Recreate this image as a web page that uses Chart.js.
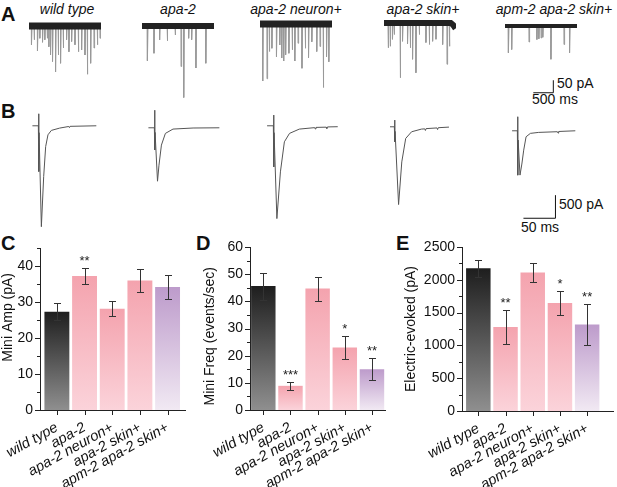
<!DOCTYPE html>
<html>
<head>
<meta charset="utf-8">
<script src="https://cdn.jsdelivr.net/npm/chart.js@4.4.1/dist/chart.umd.min.js"></script>
<style>
  body { margin: 0; background: #fff; }
  #fig { position: relative; width: 617px; height: 487px; overflow: hidden; font-family: "Liberation Sans", Arial, sans-serif; color: #111; }
  #fig canvas { position: absolute; }
  .txt { position: absolute; white-space: nowrap; font-size: 14px; line-height: 16px; }
  .name { font-style: italic; transform: translateX(-50%); }
  .panel { font-weight: bold; font-size: 20px; line-height: 20px; }
</style>
</head>
<body>
<div id="fig">
  <div class="txt panel" style="left:1px;top:4px">A</div>
  <div class="txt panel" style="left:1px;top:101px">B</div>
  <div class="txt panel" style="left:1px;top:233px">C</div>
  <div class="txt panel" style="left:196px;top:233px">D</div>
  <div class="txt panel" style="left:396px;top:233px">E</div>

  <div class="txt name" style="left:67px;top:1px">wild type</div>
  <div class="txt name" style="left:178px;top:1px">apa-2</div>
  <div class="txt name" style="left:296px;top:1px">apa-2 neuron+</div>
  <div class="txt name" style="left:423px;top:1px">apa-2 skin+</div>
  <div class="txt name" style="left:554px;top:1px">apm-2 apa-2 skin+</div>

  <div class="txt" style="left:557px;top:75px">50 pA</div>
  <div class="txt" style="left:532px;top:91px">500 ms</div>
  <div class="txt" style="left:559px;top:196px">500 pA</div>
  <div class="txt" style="left:521px;top:219px">50 ms</div>
</div>
<script>
// ---- data ----
const genotypes = ['wild type', 'apa-2', 'apa-2 neuron+', 'apa-2 skin+', 'apm-2 apa-2 skin+'];

// C: mini amplitude (pA)
const miniAmp    = [27.3, 37.2, 28.1, 36.0, 34.2];
const miniAmpSem = [2.4, 2.2, 2.1, 3.1, 3.3];
const miniAmpSig = ['', '**', '', '', ''];
// D: mini frequency (events/sec)
const miniFreq    = [45.6, 8.9, 44.7, 23.0, 15.0];
const miniFreqSem = [5.0, 1.5, 4.4, 4.2, 4.0];
const miniFreqSig = ['', '***', '', '*', '**'];
// E: evoked amplitude (pA)
const evoked    = [2175, 1280, 2110, 1645, 1320];
const evokedSem = [130, 260, 145, 185, 310];
const evokedSig = ['', '**', '', '*', '**'];

// A: spontaneous minis, [time ms, amplitude pA]
const miniWT = [[59,75],[125,55],[209,100],[267,49],[335,65],[392,55],[451,49],[493,83],[535,116],[585,142],[661,184],[727,116],[786,149],[852,88],[936,55],[995,103],[1062,62],[1146,75],[1230,103],[1312,96],[1396,116],[1454,193],[1538,149],[1622,88],[1705,75],[1772,49]];
const miniApa2 = [[132,139],[296,109],[437,56],[627,59],[825,36],[973,162],[1040,286],[1163,49],[1238,55],[1345,168],[1592,149]];
const miniNeuron = [[65,228],[172,219],[229,110],[294,97],[409,131],[491,84],[540,136],[589,148],[638,123],[719,117],[801,103],[867,148],[948,77],[1046,177],[1128,97],[1210,135],[1292,71],[1415,110],[1497,90],[1578,254],[1660,131],[1717,151]];
const miniSkin = [[100,99],[150,93],[209,65],[251,46],[401,219],[460,73],[585,83],[652,99],[711,145],[795,199],[877,46],[1045,78],[1128,86],[1212,73],[1296,65],[1463,86],[1572,165],[1631,93]];
const miniApm2 = [[82,107],[164,94],[597,64],[794,54],[843,51],[899,48],[941,45],[1145,133],[1472,74],[1611,107]];
const skinBaseline = [[0,0],[1670,0],[1730,-8],[1790,-22]];
const miniScale = { ms: 500, pA: 50 };

// B: evoked currents, [time ms, current pA]
const evokedWT = [[-9.8,0],[-0.5,0],[0,260],[0.3,-990],[0.6,-150],[4.2,-2185],[7.8,-1100],[10.9,-450],[14.5,-195],[19.8,-100],[32.8,-50],[47,-15],[48,-40],[49,-12],[90,0]];
const evokedApa2 = [[-9.8,0],[-0.5,0],[0,380],[0.3,-480],[0.6,-100],[4.4,-1157],[6.7,-810],[10.5,-375],[16.7,-122],[28.6,-28],[60,-5],[101,0]];
const evokedNeuron = [[-10.3,0],[-0.5,0],[0,232],[0.3,-890],[0.6,-150],[5,-2010],[10.5,-998],[16.7,-347],[24.7,-165],[40,-72],[64,-40],[65,-70],[66,-35],[82,-30],[83,-60],[84,-25],[100,-20]];
const evokedSkin = [[-7.3,0],[-0.5,0],[0,145],[0.3,-325],[0.6,-100],[6.1,-1684],[11.1,-760],[17.2,-252],[26.4,-108],[41.9,-50],[47,-45],[48,-80],[49,-40],[66,-25],[67,-60],[68,-20],[84.8,-7]];
const evokedApm2 = [[-8.75,0],[-0.5,0],[0,304],[0.3,-961],[0.7,-200],[3.6,-960],[6.5,-720],[9.4,-419],[13.1,-130],[19.8,-56],[32.8,-35],[62,-20],[63,-50],[64,-15],[90,0]];
const evokedScale = { ms: 50, pA: 500 };

// ---- drawing ----
Chart.defaults.font.family = '"Liberation Sans", Arial, sans-serif';
Chart.defaults.color = '#111';

const fig = document.getElementById('fig');
function makeCanvas(left, top, w, h) {
  const c = document.createElement('canvas');
  c.width = w; c.height = h;
  c.style.left = left + 'px'; c.style.top = top + 'px';
  c.style.width = w + 'px'; c.style.height = h + 'px';
  fig.appendChild(c);
  return c.getContext('2d');
}
const pts = arr => arr.map(([x, y]) => ({ x, y }));

function traceOptions(xmin, xmax, ymin, ymax) {
  return {
    responsive: false, animation: false, events: [],
    layout: { padding: 0 },
    plugins: { legend: { display: false }, tooltip: { enabled: false } },
    elements: { point: { radius: 0 }, line: { tension: 0 } },
    scales: {
      x: { type: 'linear', display: false, min: xmin, max: xmax },
      y: { type: 'linear', display: false, min: ymin, max: ymax }
    }
  };
}

function miniData(events) {
  const d = [];
  events.forEach(([t, a]) => { d.push({ x: t, y: 0 }, { x: t + 3, y: -a }, { x: t + 18, y: 0 }, { x: t + 19, y: null }); });
  return d;
}

function scaleBar(s, ax, ay) {
  return [{ x: ax - s.ms, y: ay }, { x: ax, y: ay }, { x: ax, y: ay + s.pA }];
}

// panel A
const aTraces = [
  { ev: miniWT, left: 29, top: 21, band: 7 },
  { ev: miniApa2, left: 142, top: 21, band: 6 },
  { ev: miniNeuron, left: 260, top: 19, band: 7 },
  { ev: miniSkin, left: 384, top: 18, band: 6, base: skinBaseline },
  { ev: miniApm2, left: 505, top: 21, band: 4, bar: true }
];
aTraces.forEach(tr => {
  const datasets = [
    { data: pts(tr.base || [[0, 0], [1800, 0]]), borderColor: '#222', borderWidth: tr.band },
    { data: miniData(tr.ev), borderColor: '#999', borderWidth: 1 }
  ];
  if (tr.bar) datasets.push({ data: scaleBar(miniScale, 1208, -267), borderColor: '#111', borderWidth: 1 });
  new Chart(makeCanvas(tr.left, tr.top, 72, 80), { type: 'line', data: { datasets }, options: traceOptions(0, 1800, -300, 20) });
});

// panel B
const bTraces = [
  { tr: evokedWT, left: 31, top: 105 },
  { tr: evokedApa2, left: 147, top: 107 },
  { tr: evokedNeuron, left: 266, top: 105 },
  { tr: evokedSkin, left: 387, top: 106 },
  { tr: evokedApm2, left: 510, top: 110, bar: true }
];
bTraces.forEach(b => {
  const datasets = [{ data: pts(b.tr), borderColor: '#555', borderWidth: 1 }];
  if (b.bar) datasets.push({ data: scaleBar(evokedScale, 59, -1894), borderColor: '#111', borderWidth: 1 });
  new Chart(makeCanvas(b.left, b.top, 73, 127), { type: 'line', data: { datasets }, options: traceOptions(-12, 102, -2300, 450) });
});

// panels C, D, E
const barTop = ['#1e1e1e', '#f4a3ae', '#f4a3ae', '#f4a3ae', '#bd9bcb'];
const barBottom = ['#8f8f8f', '#fbd3da', '#fbd3da', '#fbd3da', '#f1e9f3'];

const errorBars = {
  id: 'errorBars',
  afterDatasetsDraw(chart, args, opts) {
    const { ctx, scales: { y } } = chart;
    const meta = chart.getDatasetMeta(0);
    ctx.save();
    ctx.strokeStyle = '#333'; ctx.lineWidth = 1;
    meta.data.forEach((bar, i) => {
      const v = opts.values[i], e = opts.sems[i];
      const px = Math.round(bar.x) + 0.5;
      const yt = Math.round(y.getPixelForValue(v + e)) + 0.5;
      const yb = Math.round(y.getPixelForValue(v - e)) + 0.5;
      ctx.beginPath();
      ctx.moveTo(px, yt); ctx.lineTo(px, yb);
      ctx.moveTo(px - 3.5, yt); ctx.lineTo(px + 3.5, yt);
      ctx.moveTo(px - 3.5, yb); ctx.lineTo(px + 3.5, yb);
      ctx.stroke();
      if (opts.sig[i]) {
        ctx.fillStyle = '#222';
        ctx.font = '13px "Liberation Sans", Arial, sans-serif';
        ctx.textAlign = 'center'; ctx.textBaseline = 'alphabetic';
        ctx.fillText(opts.sig[i], bar.x, yt - 4);
      }
    });
    ctx.restore();
  }
};

const axisTicks = {
  id: 'axisTicks',
  afterDraw(chart, args, opts) {
    const { ctx, chartArea: a, scales: { x, y } } = chart;
    ctx.save();
    ctx.strokeStyle = '#222'; ctx.lineWidth = 1;
    ctx.beginPath();
    y.ticks.forEach(t => {
      const py = Math.round(y.getPixelForValue(t.value)) + 0.5;
      const len = t.value % opts.major === 0 ? 5 : 3;
      ctx.moveTo(a.left - len, py); ctx.lineTo(a.left, py);
    });
    x.ticks.forEach(t => {
      const px = Math.round(x.getPixelForValue(t.value)) + 0.5;
      ctx.moveTo(px, a.bottom); ctx.lineTo(px, a.bottom + 5);
    });
    ctx.stroke();
    ctx.restore();
  }
};

function barPanel(p) {
  const ctx = makeCanvas(p.left, p.top, p.w, p.h);
  new Chart(ctx, {
    type: 'bar',
    data: {
      datasets: [{
        data: p.values.map((v, i) => ({ x: i, y: v })),
        borderWidth: 0,
        categoryPercentage: 1,
        barPercentage: 0.9,
        backgroundColor: c => {
          const i = c.dataIndex;
          const { chartArea, scales } = c.chart;
          if (!chartArea || c.type !== 'data') return barTop[i];
          const t = scales.y.getPixelForValue(c.parsed.y), b = scales.y.getPixelForValue(0);
          const g = c.chart.ctx.createLinearGradient(0, t, 0, b);
          g.addColorStop(0, barTop[i]); g.addColorStop(1, barBottom[i]);
          return g;
        }
      }]
    },
    plugins: [errorBars, axisTicks],
    options: {
      responsive: false, animation: false, events: [],
      layout: { padding: { top: p.padTop, right: p.padRight, left: 0, bottom: 0 } },
      plugins: {
        legend: { display: false }, tooltip: { enabled: false },
        errorBars: { values: p.values, sems: p.sems, sig: p.sig },
        axisTicks: { major: p.major }
      },
      scales: {
        x: {
          type: 'linear', offset: false, min: p.xmin, max: p.xmax,
          afterBuildTicks: s => { s.ticks = genotypes.map((_, i) => ({ value: i })); },
          afterFit: s => { s.height = p.xAxisH; s.paddingLeft = 0; s.paddingRight = 0; },
          grid: { display: false, drawTicks: false },
          border: { display: true, color: '#222', width: 1 },
          ticks: {
            autoSkip: false, minRotation: 29, maxRotation: 29, padding: 9,
            font: { size: 14.5, style: 'italic' }, color: '#111',
            callback: v => genotypes[v]
          }
        },
        y: {
          min: 0, max: p.ymax,
          afterFit: s => { s.width = p.yAxisW; },
          grid: { display: false, drawTicks: false },
          border: { display: true, color: '#222', width: 1 },
          ticks: {
            autoSkip: false, stepSize: p.step, padding: 7,
            font: { size: 14 }, color: '#111',
            callback: v => (v % p.major === 0 ? v : '')
          },
          title: { display: true, text: p.title, font: { size: 14 }, color: '#111', padding: { top: p.titlePad, bottom: 0 } }
        }
      }
    }
  });
}

// leading / trailing spaces nudge the centred axis titles up or down as in the original
barPanel({ left: 0, top: 228, w: 200, h: 259, padTop: 20, padRight: 15, yAxisW: 40, xAxisH: 77,
  xmin: -0.61, xmax: 4.63, ymax: 45, step: 5, major: 10, title: '      Mini Amp (pA)', titlePad: 0,
  values: miniAmp, sems: miniAmpSem, sig: miniAmpSig });
barPanel({ left: 200, top: 228, w: 200, h: 259, padTop: 19, padRight: 15, yAxisW: 50, xAxisH: 77,
  xmin: -0.49, xmax: 4.48, ymax: 60, step: 5, major: 10, title: 'Mini Freq (events/sec)    ', titlePad: 2,
  values: miniFreq, sems: miniFreqSem, sig: miniFreqSig });
barPanel({ left: 400, top: 228, w: 217, h: 259, padTop: 19, padRight: 4, yAxisW: 62, xAxisH: 76,
  xmin: -0.6, xmax: 4.95, ymax: 2500, step: 250, major: 500, title: 'Electric-evoked (pA)', titlePad: 3,
  values: evoked, sems: evokedSem, sig: evokedSig });
</script>
</body>
</html>
